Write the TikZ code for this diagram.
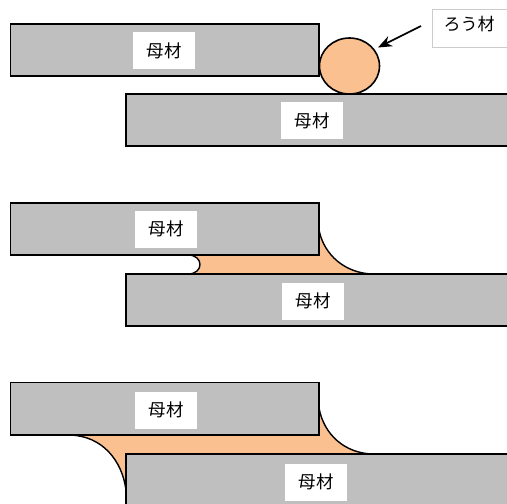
\documentclass[tikz,border=0pt]{standalone}
\usepackage{fontspec}
\setmainfont{Noto Sans CJK JP}
\usetikzlibrary{arrows.meta,shapes.geometric}
\definecolor{metal}{RGB}{191,191,191}
\definecolor{braze}{RGB}{250,192,144}
\tikzset{
  base/.style={draw=black,line width=1.6pt,fill=metal},
  filler/.style={fill=braze,draw=none},
  edge/.style={draw=black,line width=1.4pt},
  lbl/.style={fill=white,inner sep=0pt,minimum width=62pt,minimum height=37pt,font=\fontsize{17.5}{17.5}\selectfont},
}
\begin{document}
\begin{tikzpicture}[x=1pt,y=-1pt]
\useasboundingbox (0,0) rectangle (507,504);
% --- top panel
\draw[base] (10.5,24) rectangle (319,76);
\draw[base] (126,94) rectangle (509,146);
\node[ellipse,draw=black,line width=1.6pt,fill=braze,minimum width=60pt,minimum height=56pt,inner sep=0pt] (ball) at (349.5,66) {};
\node[lbl] (a1) at (164,50.5) {母材};
\node[lbl] (a2) at (312,120.5) {母材};
\node[draw=black!20,line width=0.7pt,fill=white,minimum width=75pt,minimum height=38pt,inner sep=0pt] (rbox) at (469.5,28) {};
\node[font=\fontsize{17}{17}\selectfont,anchor=center] (rtext) at (469,24) {ろう材};
\coordinate (arrowstart) at (421,26);
\coordinate (arrowtip) at (378,47.5);
\draw[-{Stealth[length=14pt,width=11pt]},line width=1.6pt] (arrowstart) -- (arrowtip);
% --- middle panel
\fill[filler] (190,255) -- (319,255) -- (319,230) .. controls (324,255) and (345,273) .. (372,274) -- (190,274) .. controls (204,274) and (204,255) .. (190,255) -- cycle;
\draw[edge] (319,230) .. controls (324,255) and (345,273) .. (372,274);
\draw[edge] (188,255) .. controls (204,255) and (204,274) .. (188,274);
\draw[base] (10.5,203) rectangle (319,255);
\draw[base] (126,274) rectangle (509,326);
\node[lbl] (b1) at (166,229) {母材};
\node[lbl] (b2) at (313,301) {母材};
% --- bottom panel
\fill[filler] (70,435) -- (319,435) -- (319,408) .. controls (324,435) and (345,453) .. (372,454) -- (126,454) -- (126,490) .. controls (122,460) and (102,436) .. (70,435) -- cycle;
\draw[edge] (319,408) .. controls (324,435) and (345,453) .. (372,454);
\draw[edge] (126,490) .. controls (122,460) and (102,436) .. (70,435);
\draw[base] (10.5,382.5) rectangle (319,435);
\draw[base] (126,454) rectangle (509,510);
\node[lbl] (c1) at (166,410) {母材};
\node[lbl] (c2) at (316,482) {母材};
\end{tikzpicture}
\end{document}
